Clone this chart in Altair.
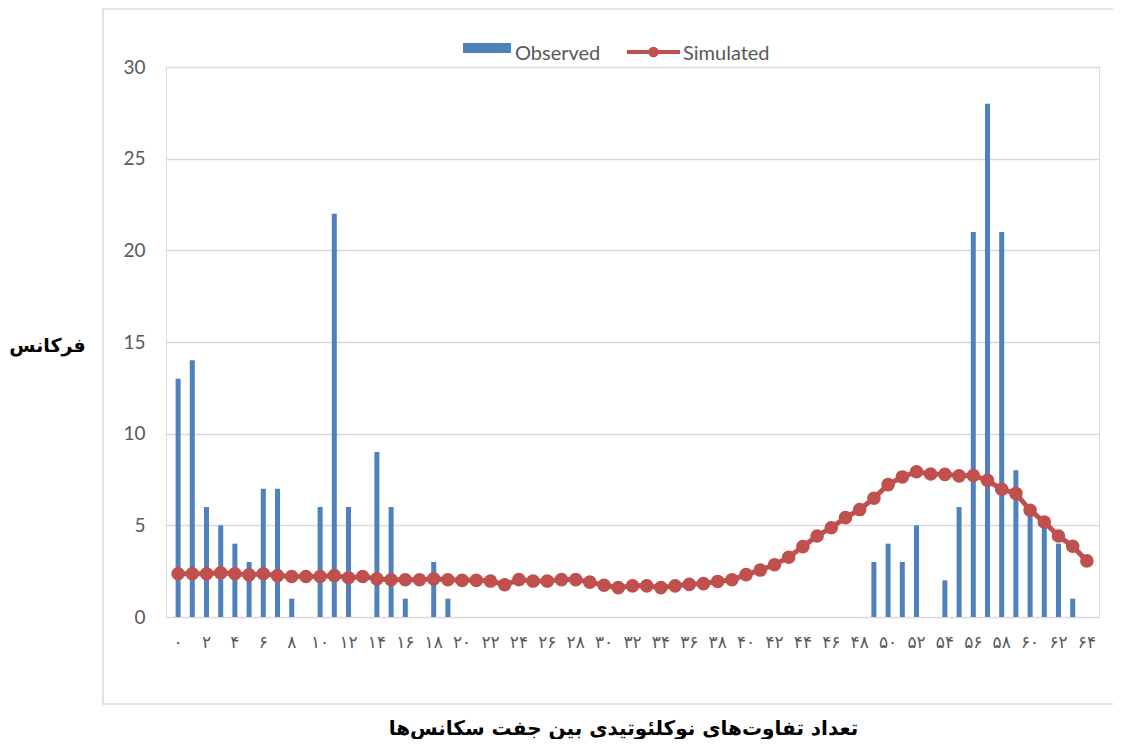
import altair as alt
import pandas as pd

# ---- data ----
differences = list(range(0, 65))

observed = [13, 14, 6, 5, 4, 3, 7, 7, 1, 0,
            6, 22, 6, 0, 9, 6, 1, 0, 3, 1,
            0, 0, 0, 0, 0, 0, 0, 0, 0, 0,
            0, 0, 0, 0, 0, 0, 0, 0, 0, 0,
            0, 0, 0, 0, 0, 0, 0, 0, 0, 3,
            4, 3, 5, 0, 2, 6, 21, 28, 21, 8,
            6, 5, 4, 1, 0]

simulated = [2.36, 2.36, 2.36, 2.41, 2.36, 2.30, 2.36, 2.26, 2.21, 2.21,
             2.21, 2.26, 2.14, 2.21, 2.08, 2.03, 2.03, 2.03, 2.08, 2.03,
             2.00, 2.00, 1.96, 1.76, 2.04, 1.96, 1.96, 2.04, 2.04, 1.90,
             1.73, 1.60, 1.70, 1.70, 1.60, 1.70, 1.78, 1.82, 1.94, 2.03,
             2.31, 2.56, 2.85, 3.26, 3.84, 4.42, 4.87, 5.42, 5.86, 6.48,
             7.22, 7.64, 7.92, 7.80, 7.78, 7.70, 7.72, 7.45, 6.97, 6.74,
             5.82, 5.18, 4.42, 3.86, 3.06]

x_tick_values = list(range(0, 65, 2))
x_tick_labels = ["۰", "۲", "۴", "۶", "۸", "۱۰", "۱۲", "۱۴", "۱۶", "۱۸",
                 "۲۰", "۲۲", "۲۴", "۲۶", "۲۸", "۳۰", "۳۲", "۳۴", "۳۶", "۳۸",
                 "۴۰", "۴۲", "۴۴", "۴۶", "۴۸", "۵۰", "۵۲", "۵۴", "۵۶", "۵۸",
                 "۶۰", "۶۲", "۶۴"]
y_tick_values = [0, 5, 10, 15, 20, 25, 30]

series_names = ["Observed", "Simulated"]
x_title = "تعداد تفاوت‌های نوکلئوتیدی بین جفت سکانس‌ها"
y_title = "فرکانس"

df = pd.DataFrame({"d": differences, "obs": observed, "sim": simulated})
ticks_df = pd.DataFrame({"d": x_tick_values, "lab": x_tick_labels})

BLUE = "#4F81BD"
RED = "#C0504D"
GRID = "#D9D9D9"
TXT = "#595959"

x_scale = alt.Scale(domain=[-0.5, 64.5], nice=False, zero=False)
y_scale = alt.Scale(domain=[0, 30], nice=False)

x_axis = alt.Axis(grid=False, domain=False, ticks=False, labels=False,
                  title=x_title, titleFont="DejaVu Sans", titleFontSize=20,
                  titleFontWeight="bold", titleColor="#000000",
                  titleX=457, titleY=111, titleAlign="center",
                  titleBaseline="middle", titleAngle=0)

y_axis = alt.Axis(values=y_tick_values, grid=True, gridColor=GRID,
                  gridWidth=1.3, domain=False, ticks=False, tickSize=0,
                  labelPadding=21, labelFont="Lato", labelFontSize=19,
                  labelColor=TXT,
                  title=y_title, titleFont="DejaVu Sans", titleFontSize=19,
                  titleFontWeight="bold", titleColor="#000000",
                  titleAngle=0, titleX=-119, titleY=278,
                  titleAlign="center", titleBaseline="middle")

X = alt.X("d:Q", scale=x_scale, axis=x_axis, title=x_title)

base = alt.Chart(df)

bars = base.mark_bar(size=5, color=BLUE).encode(
    x=X,
    y=alt.Y("obs:Q", scale=y_scale, axis=y_axis, title=y_title),
)

line = base.mark_line(color=RED, strokeWidth=5).encode(
    x=X,
    y=alt.Y("sim:Q", scale=y_scale, axis=y_axis, title=y_title),
)

points = base.mark_circle(size=185, color=RED, opacity=1).encode(
    x=X,
    y=alt.Y("sim:Q", scale=y_scale, axis=y_axis, title=y_title),
)

# x tick labels (Persian digits) placed through the x scale
xlabels = alt.Chart(ticks_df).mark_text(
    font="DejaVu Sans", fontSize=17, color=TXT, align="center", baseline="middle"
).encode(
    x=X,
    y=alt.value(576),
    text="lab:N",
)

# chart frame (decoration)
frame = alt.Chart(pd.DataFrame({"k": [0]})).mark_rect(
    fillOpacity=0, stroke=GRID, strokeWidth=1.5
).encode(
    x=alt.value(-63), x2=alt.value(980), y=alt.value(-58), y2=alt.value(637)
)

# manual legend
leg_rect = alt.Chart(pd.DataFrame({"k": [0]})).mark_rect(color=BLUE).encode(
    x=alt.value(297), x2=alt.value(345), y=alt.value(-24), y2=alt.value(-14)
)
leg_line = alt.Chart(pd.DataFrame({"k": [0]})).mark_rule(color=RED, strokeWidth=4).encode(
    x=alt.value(461), x2=alt.value(514), y=alt.value(-15)
)
leg_dot = alt.Chart(pd.DataFrame({"k": [0]})).mark_circle(color=RED, size=110, opacity=1).encode(
    x=alt.value(487.5), y=alt.value(-15)
)
leg_text = alt.Chart(pd.DataFrame({"name": series_names, "px": [349, 517]})).mark_text(
    font="Lato", fontSize=20, color=TXT, align="left", baseline="alphabetic"
).encode(
    x=alt.X("px:Q", scale=None), y=alt.value(-7), text="name:N"
)

chart = alt.layer(bars, line, points, xlabels, frame, leg_rect, leg_line, leg_dot, leg_text).properties(
    width=933, height=550,
    autosize=alt.AutoSizeParams(type="none"),
    padding={"left": 158, "top": 59, "right": 14, "bottom": 122},
).configure_view(strokeWidth=0).configure(background="white")

chart.save("out.html", embed_options={"renderer": "svg", "actions": False})
